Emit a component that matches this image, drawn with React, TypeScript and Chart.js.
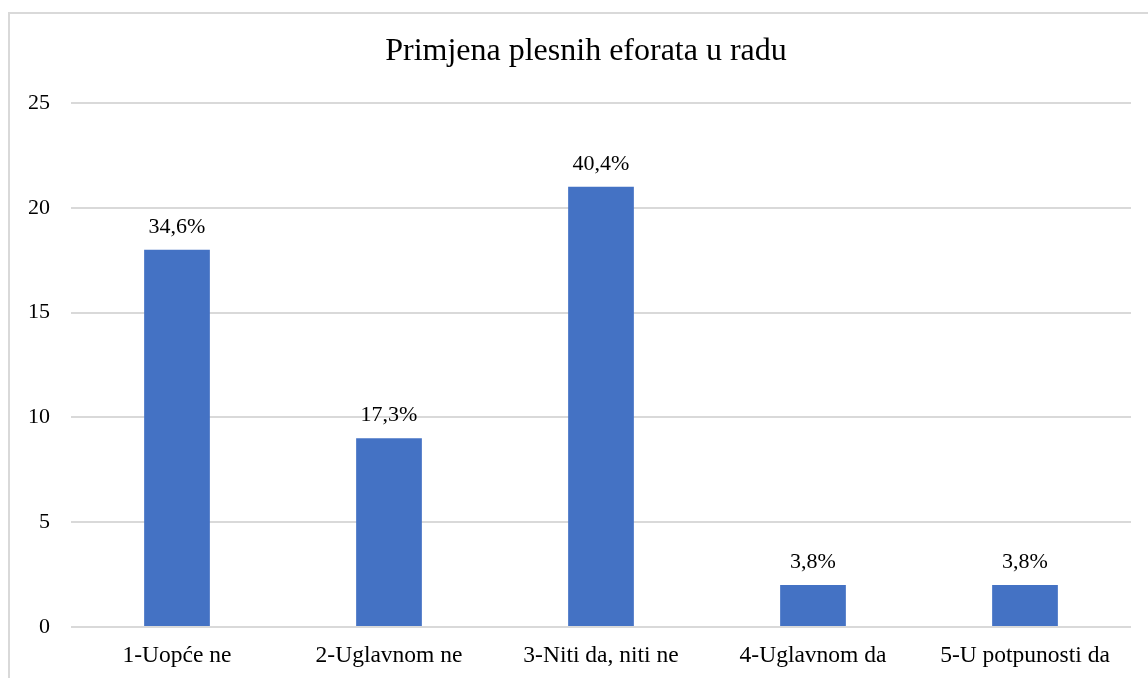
import React, { useEffect, useRef } from "react";
import { Chart, registerables } from "chart.js";

Chart.register(...registerables);

const categories = ["1-Uopće ne", "2-Uglavnom ne", "3-Niti da, niti ne", "4-Uglavnom da", "5-U potpunosti da"];
const counts = [18, 9, 21, 2, 2];
const percentLabels = ["34,6%", "17,3%", "40,4%", "3,8%", "3,8%"];
const titleText = "Primjena plesnih eforata u radu";

const FONT = "'Liberation Serif', 'Times New Roman', serif";

const valueLabels = {
  id: "valueLabels",
  afterDatasetsDraw(chart: any) {
    const ctx = chart.ctx;
    const meta = chart.getDatasetMeta(0);
    ctx.save();
    ctx.font = `22px ${FONT}`;
    ctx.fillStyle = "#000";
    ctx.textAlign = "center";
    ctx.textBaseline = "bottom";
    meta.data.forEach((bar: any, i: number) => {
      ctx.fillText(percentLabels[i], bar.x, bar.y - 12);
    });
    ctx.restore();
  },
};

const titlePlugin = {
  id: "offsetTitle",
  afterDraw(chart: any) {
    const ctx = chart.ctx;
    ctx.save();
    ctx.font = `32px ${FONT}`;
    ctx.fillStyle = "#000";
    ctx.textAlign = "center";
    ctx.textBaseline = "middle";
    ctx.fillText(titleText, 586, 52);
    ctx.restore();
  },
};

export default function App() {
  const ref = useRef<HTMLCanvasElement | null>(null);
  useEffect(() => {
    if (!ref.current) return;
    const chart = new Chart(ref.current, {
      type: "bar",
      data: {
        labels: categories,
        datasets: [
          {
            data: counts,
            backgroundColor: "#4472C4",
            barPercentage: 0.31,
            categoryPercentage: 1,
          },
        ],
      },
      options: {
        animation: false,
        responsive: false,
        layout: { padding: { left: 0, right: 17, top: 103, bottom: 0 } },
        plugins: {
          legend: { display: false },
          tooltip: { enabled: false },
          title: { display: false },
        },
        scales: {
          x: {
            grid: { display: false, drawTicks: false },
            border: { display: false },
            ticks: { color: "#000", font: { family: FONT, size: 23.5 }, padding: 15, maxRotation: 0 },
            afterFit: (s: any) => { s.height = 51; },
          },
          y: {
            min: 0,
            max: 25,
            ticks: { stepSize: 5, color: "#000", font: { family: FONT, size: 22 }, padding: 21 },
            grid: { color: "#d9d9d9", lineWidth: 2, drawTicks: false },
            border: { display: false },
            afterFit: (s: any) => { s.width = 71; },
          },
        },
      },
      plugins: [valueLabels, titlePlugin],
    });
    return () => chart.destroy();
  }, []);
  return (
    <div style={{ position: "fixed", left: 0, top: 0, width: 1148, height: 678, background: "#fff", overflow: "hidden" }}>
      <div style={{ position: "absolute", left: 8, top: 12, width: 1200, height: 800, border: "2px solid #d9d9d9", boxSizing: "border-box" }} />
      <canvas ref={ref} width={1148} height={678} style={{ position: "absolute", left: 0, top: 0 }} />
    </div>
  );
}
